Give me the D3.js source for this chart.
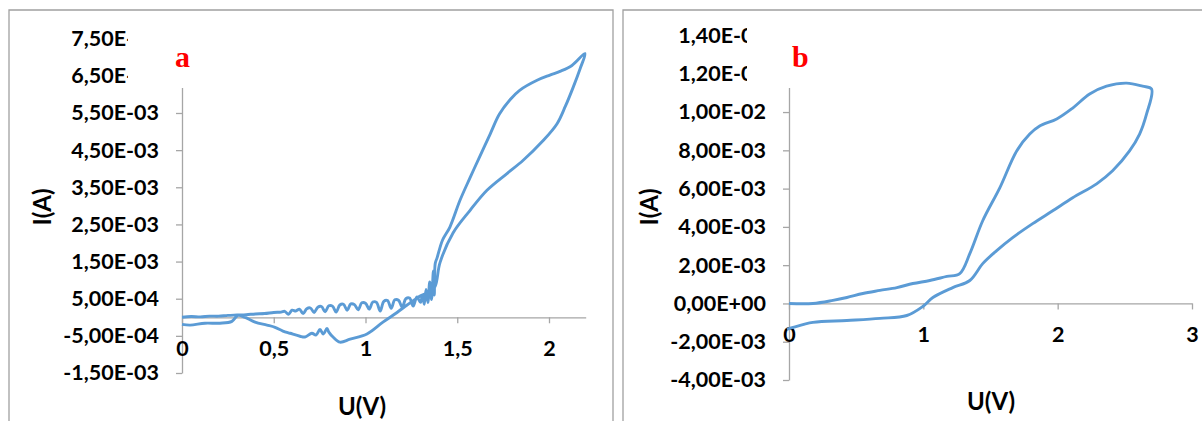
<!DOCTYPE html>
<html><head><meta charset="utf-8">
<script src="https://cdn.jsdelivr.net/npm/d3@7"></script>
<style>body{margin:0;background:#fff} svg{display:block}</style>
</head><body><svg id="c" width="1202" height="421"></svg>
<script>
// ---------- Panel a data (U in V, I in mA) ----------
const aVoltage = [0,0.05,0.10,0.15,0.20,0.25,0.30,0.35,0.40,0.45,0.50,0.54,
  0.56,0.58,0.60,0.62,0.64,0.66,0.68,0.70,0.72,0.74,0.76,0.78,0.80,0.82,0.84,0.86,0.88,0.90,0.92,0.94,0.96,0.98,1.00,1.02,1.04,1.06,1.08,1.10,1.12,1.14,1.16,1.18,1.20,1.22,1.24,1.26,1.28,1.30,1.31,1.32,1.33,1.34,1.35,1.36,1.37,1.375,1.38,1.39,
  1.42,1.46,1.515,1.57,1.62,1.68,1.73,1.79,1.84,1.935,2.005,2.06,2.125,2.196,
  2.17,2.13,2.09,2.044,1.967,1.858,1.771,1.662,1.57,1.477,1.406,1.379,1.35,1.30,1.27,1.215,1.172,1.095,1.008,0.916,0.861,0.823,0.80,0.79,0.77,0.752,0.73,0.708,0.67,0.643,0.589,0.55,0.507,0.463,0.398,0.343,0.305,0.272,0.207,0.125,0.044,0];
const aCurrent = [0,0.02,0.01,0.03,0.03,0.05,0.06,0.07,0.09,0.10,0.13,0.14,
  0.16,0.08,0.19,0.17,0.22,0.10,0.23,0.25,0.13,0.27,0.29,0.15,0.31,0.30,0.14,0.33,0.35,0.19,0.36,0.34,0.20,0.39,0.38,0.22,0.41,0.40,0.17,0.43,0.45,0.24,0.47,0.46,0.27,0.50,0.52,0.30,0.55,0.40,0.60,0.35,0.75,0.40,0.95,0.48,1.25,0.60,1.45,1.60,
  2.08,2.43,3.15,3.76,4.30,4.94,5.47,5.87,6.11,6.38,6.52,6.62,6.78,7.10,
  6.70,6.17,5.69,5.21,4.75,4.22,3.87,3.42,2.88,2.27,1.47,0.83,0.69,0.58,0.48,0.29,0.13,-0.13,-0.45,-0.59,-0.67,-0.53,-0.40,-0.30,-0.45,-0.33,-0.48,-0.43,-0.53,-0.51,-0.43,-0.37,-0.27,-0.21,-0.13,0.0,0.05,-0.11,-0.16,-0.16,-0.21,-0.19];
const aYTicks = [-1.5,-0.5,0.5,1.5,2.5,3.5,4.5,5.5,6.5,7.5];
const aXTicks = [0,0.5,1,1.5,2];

// ---------- Panel b data (U in V, I in mA) ----------
const bVoltage = [0,0.178,0.327,0.431,0.55,0.677,0.803,0.922,1.048,1.175,1.271,1.346,1.442,1.569,1.695,1.792,1.866,1.993,2.112,2.238,2.364,2.513,2.632,2.699,
  2.662,2.61,2.535,2.409,2.29,2.112,1.963,1.814,1.665,1.546,1.442,1.346,1.219,1.071,0.996,0.877,0.677,0.431,0.178,0.03,-0.015];
const bCurrent = [0,0,0.16,0.31,0.52,0.68,0.83,1.04,1.20,1.41,1.56,2.60,4.32,6.04,7.97,8.85,9.27,9.64,10.21,10.94,11.35,11.51,11.35,11.20,
  9.90,8.85,7.97,6.93,6.25,5.52,4.84,4.17,3.44,2.76,2.08,1.20,0.83,0.31,-0.16,-0.63,-0.78,-0.89,-0.99,-1.25,-1.35];
const bYTicks = [-4,-2,0,2,4,6,8,10,12,14];
const bXTicks = [0,1,2,3];

const svg = d3.select('#c');
const FONT = 'Lato, "Open Sans", sans-serif';
const AXC = '#a6a6a6';
const LINEC = '#5b9bd5';

function sci(v){
  const s = (v*1e-3).toExponential(2);
  const [m,e] = s.split('e');
  return m.replace('.',',') + 'E' + e[0] + String(Math.abs(+e)).padStart(2,'0');
}
function dec(v){ return String(v).replace('.',','); }

function panel(cfg){
  const g = svg.append('g');
  g.append('path').attr('d', cfg.frame).attr('fill','none').attr('stroke','#a0a0a0').attr('stroke-width',1.3);
  const x = d3.scaleLinear().domain(cfg.xd).range(cfg.xr);
  const y = d3.scaleLinear().domain(cfg.yd).range(cfg.yr);
  const ya = g.append('g').attr('transform',`translate(${x(0)},0)`)
    .call(d3.axisLeft(y).tickValues(cfg.yt).tickFormat(sci).tickSize(6).tickPadding(17).tickSizeOuter(0));
  const xa = g.append('g').attr('transform',`translate(0,${y(0)})`)
    .call(d3.axisBottom(x).tickValues(cfg.xt).tickFormat(dec).tickSize(6).tickPadding(17).tickSizeOuter(0));
  [ya,xa].forEach(a=>{
    a.selectAll('path,line').attr('stroke',AXC).attr('stroke-width',1.3);
    a.selectAll('text').attr('fill','#000').style('font-family',FONT).style('font-weight','bold').style('font-size','21.5px');
  });
  const pts = cfg.v.map((v,i)=>[v,cfg.i[i]]);
  g.append('path').datum(pts)
    .attr('d', d3.line().curve(d3.curveCatmullRom.alpha(0.5)).x(d=>x(d[0])).y(d=>y(d[1])))
    .attr('fill','none').attr('stroke',LINEC).attr('stroke-width',2.9).attr('stroke-linejoin','round');
  g.append('rect').attr('x',cfg.box[0]).attr('y',cfg.box[1]).attr('width',cfg.box[2]).attr('height',cfg.box[3]).attr('fill','#fff');
  g.append('text').attr('x',cfg.letterPos[0]).attr('y',cfg.letterPos[1]).text(cfg.letter)
    .attr('fill','#ff0000').style('font-family','"Liberation Serif", "Times New Roman", serif').style('font-weight','bold').style('font-size','30px');
  g.append('text').attr('transform',`translate(${cfg.ytitle[0]},${cfg.ytitle[1]}) rotate(-90)`).attr('text-anchor','middle').attr('dy','0.35em')
    .text('I(A)').style('font-family',FONT).style('font-weight','bold').style('font-size','24px');
  g.append('text').attr('x',cfg.xtitle[0]).attr('y',cfg.xtitle[1]).attr('text-anchor','middle').attr('dy','0.35em')
    .text('U(V)').style('font-family',FONT).style('font-weight','bold').style('font-size','24px');
}

panel({frame:'M9,430 V10 H613 V430', xd:[0,2.2], xr:[182,585.7], yd:[-1.5,7.5], yr:[373,38.7],
  yt:aYTicks, xt:aXTicks, v:aVoltage, i:aCurrent, box:[128,12,130,76], letter:'a', letterPos:[175,67],
  ytitle:[43,207], xtitle:[362,407]});
panel({frame:'M623,430 V10 H1210', xd:[0,3], xr:[789,1192], yd:[-4,14], yr:[380,35.5],
  yt:bYTicks, xt:bXTicks, v:bVoltage, i:bCurrent, box:[747,12,130,76], letter:'b', letterPos:[792,67],
  ytitle:[650,207], xtitle:[991,402]});
</script></body></html>
